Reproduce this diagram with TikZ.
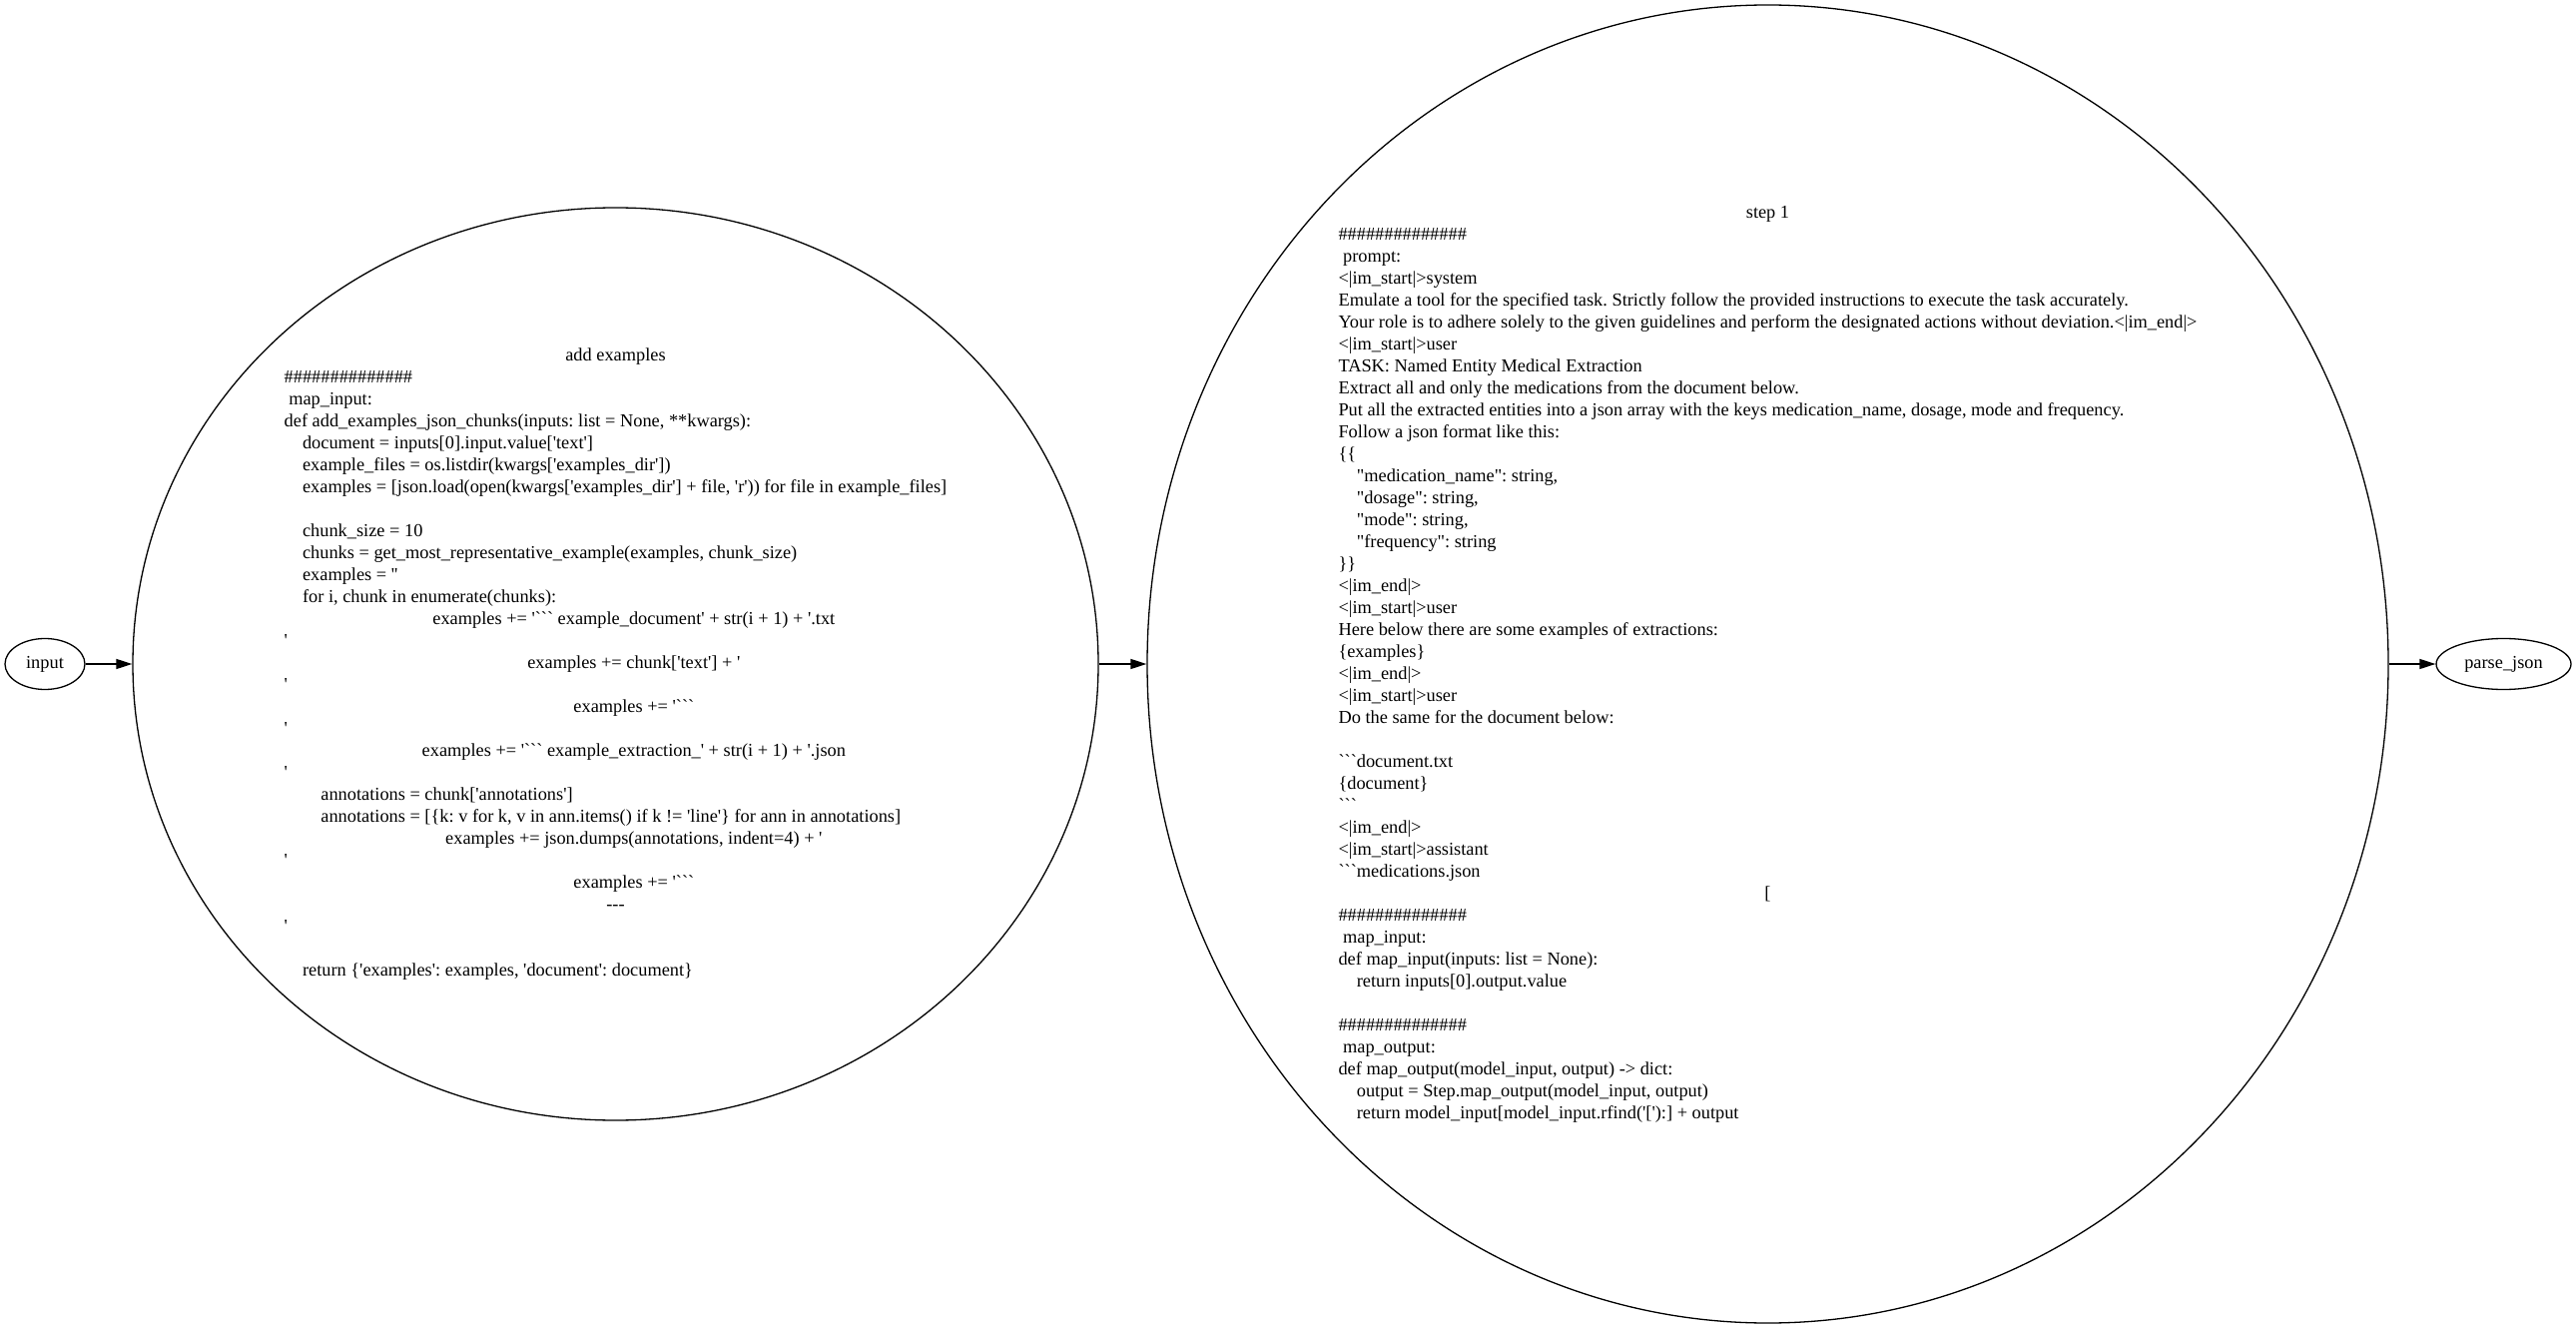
\documentclass[tikz,border=0pt]{standalone}
\usepackage{fontspec}
\setmainfont[Ligatures=TeXOff]{Liberation Serif}
\usetikzlibrary{arrows.meta,shapes.geometric}
\newcommand\sps[1]{\hspace*{#1\fontdimen2\font}}
\newcommand\hashes{\#\#\#\#\#\#\#\#\#\#\#\#\#\#}
\newcommand\cl[1]{\multicolumn{1}{@{}c@{}}{#1}}
\frenchspacing
\begin{document}
\begin{tikzpicture}[x=0.5pt,y=-0.5pt,
  every node/.style={font=\fontsize{9.17pt}{11pt}\selectfont\frenchspacing},
  oval/.style={draw, ellipse, line width=0.65pt, inner sep=0pt},
  code/.style={inner sep=0pt, align=left},
  link/.style={line width=0.65pt, -{Triangle[length=8pt,width=5pt]}}]
\useasboundingbox (0,0) rectangle (2580,1331);

\node[oval, minimum width=40pt, minimum height=25.5pt] (input) at (45,665) {input};
\node[oval, minimum width=483.5pt, minimum height=457pt] (add) at (616.5,665) {};
\node[oval, minimum width=621.5pt, minimum height=660pt] (step) at (1770.5,665) {};
\node[oval, minimum width=67.5pt, minimum height=25.5pt] (parse) at (2507.5,665) {parse\_json};

\node[code] (addtext) at (616.5,665) {\begin{tabular}{@{}l@{}}
\cl{add examples}\\
\hashes\\
\sps{1}map\_input:\\
def add\_examples\_json\_chunks(inputs: list = None, **kwargs):\\
\sps{4}document = inputs[0].input.value['text']\\
\sps{4}example\_files = os.listdir(kwargs['examples\_dir'])\\
\sps{4}examples = [json.load(open(kwargs['examples\_dir'] + file, 'r')) for file in example\_files]\\
\\
\sps{4}chunk\_size = 10\\
\sps{4}chunks = get\_most\_representative\_example(examples, chunk\_size)\\
\sps{4}examples = ''\\
\sps{4}for i, chunk in enumerate(chunks):\\
\cl{\sps{8}examples += '``` example\_document' + str(i + 1) + '.txt}\\
'\\
\cl{\sps{8}examples += chunk['text'] + '}\\
'\\
\cl{\sps{8}examples += '```}\\
'\\
\cl{\sps{8}examples += '``` example\_extraction\_' + str(i + 1) + '.json}\\
'\\
\sps{8}annotations = chunk['annotations']\\
\sps{8}annotations = [\{k: v for k, v in ann.items() if k != 'line'\} for ann in annotations]\\
\cl{\sps{8}examples += json.dumps(annotations, indent=4) + '}\\
'\\
\cl{\sps{8}examples += '```}\\
\cl{---}\\
'\\
\\
\sps{4}return \{'examples': examples, 'document': document\}
\end{tabular}};

\node[code] (steptext) at (1770.5,665) {\begin{tabular}{@{}l@{}}
\cl{step 1}\\
\hashes\\
\sps{1}prompt:\\
<|im\_start|>system\\
Emulate a tool for the specified task. Strictly follow the provided instructions to execute the task accurately.\\
Your role is to adhere solely to the given guidelines and perform the designated actions without deviation.<|im\_end|>\\
<|im\_start|>user\\
TASK: Named Entity Medical Extraction\\
Extract all and only the medications from the document below.\\
Put all the extracted entities into a json array with the keys medication\_name, dosage, mode and frequency.\\
Follow a json format like this:\\
\{\{\\
\sps{4}"medication\_name": string,\\
\sps{4}"dosage": string,\\
\sps{4}"mode": string,\\
\sps{4}"frequency": string\\
\}\}\\
<|im\_end|>\\
<|im\_start|>user\\
Here below there are some examples of extractions:\\
\{examples\}\\
<|im\_end|>\\
<|im\_start|>user\\
Do the same for the document below:\\
\\
```document.txt\\
\{document\}\\
```\\
<|im\_end|>\\
<|im\_start|>assistant\\
```medications.json\\
\cl{[}\\
\hashes\\
\sps{1}map\_input:\\
def map\_input(inputs: list = None):\\
\sps{4}return inputs[0].output.value\\
\\
\hashes\\
\sps{1}map\_output:\\
def map\_output(model\_input, output) -> dict:\\
\sps{4}output = Step.map\_output(model\_input, output)\\
\sps{4}return model\_input[model\_input.rfind('['):] + output
\end{tabular}};

\draw[link] (input) -- (add);
\draw[link] (add) -- (step);
\draw[link] (step) -- (parse);
\end{tikzpicture}
\end{document}
